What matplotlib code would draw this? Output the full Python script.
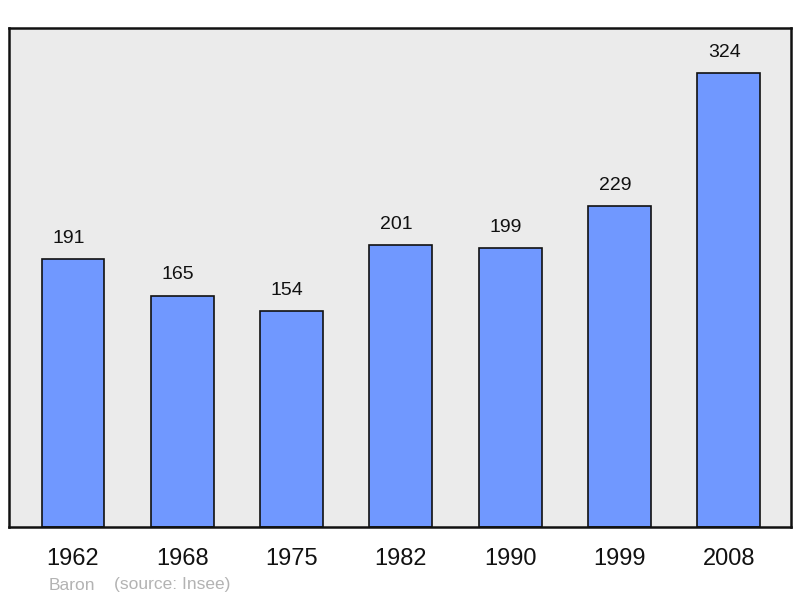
import matplotlib
matplotlib.use("Agg")
import matplotlib.pyplot as plt

years = ["1962", "1968", "1975", "1982", "1990", "1999", "2008"]
population = [191, 165, 154, 201, 199, 229, 324]

plt.rcParams['font.family'] = ['Liberation Sans', 'DejaVu Sans']

fig = plt.figure(figsize=(8, 5.98), dpi=100)
ax = fig.add_axes([9/800, 1 - 527/598, 782/800, 499/598])
ax.set_facecolor('#ebebeb')

x = list(range(len(years)))
ax.bar(x, population, width=0.575, color='#7098ff', edgecolor='#111111', linewidth=1.2, zorder=2)

for xi, v in zip(x, population):
    ax.annotate(str(v), (xi, v), xytext=(-3, 15), textcoords='offset points',
                ha='center', va='center', fontsize=14, color='#111111')

ax.set_xlim(-0.585, 6.57)
ax.set_ylim(0, 356)
ax.set_xticks(x)
ax.set_xticklabels(years, fontsize=17, color='#111111')
ax.tick_params(axis='x', length=0, pad=15)
ax.set_yticks([])
for s in ax.spines.values():
    s.set_linewidth(1.8)
    s.set_color('#111111')

fig.text(49/800, 1 - 585/598, "Baron", fontsize=12.5, color='#b3b3b3', va='center', ha='left')
fig.text(114/800, 1 - 585/598, "(source: Insee)", fontsize=12.5, color='#b3b3b3', va='center', ha='left')

fig.savefig("out.png", dpi=100)
